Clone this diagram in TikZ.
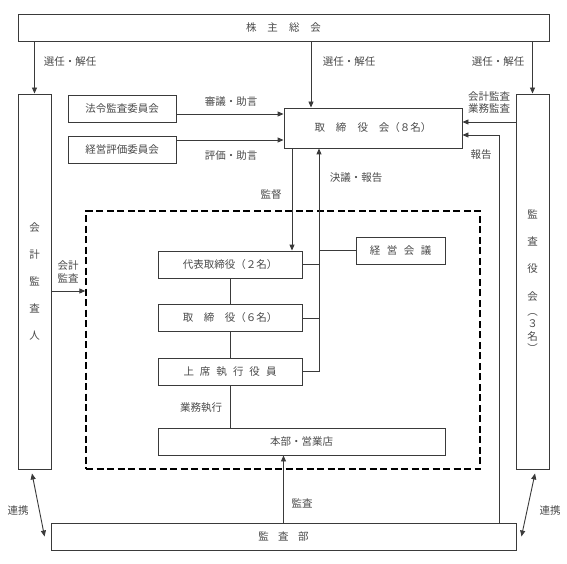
\documentclass[tikz,border=0pt]{standalone}
\usepackage{fontspec}
\setmainfont{Noto Sans CJK JP}
\usetikzlibrary{arrows.meta}
\definecolor{linec}{HTML}{3A3A3A}
\definecolor{textc}{HTML}{4A4A4A}
\begin{document}
\begin{tikzpicture}[x=1pt,y=-1pt,
  every node/.style={font=\fontsize{10.5}{12}\selectfont, text=textc, inner sep=0pt},
  box/.style={draw=linec, line width=0.9pt, fill=white},
  execbox/.style={draw=black, line width=1.4pt, dash pattern=on 7pt off 3.5pt},
  conn/.style={draw=linec, line width=0.9pt},
  arr/.style={conn, -{Triangle[length=6pt,width=5pt]}},
  darr/.style={conn, {Triangle[length=6pt,width=5pt]}-{Triangle[length=6pt,width=5pt]}}]
\useasboundingbox (0,0) rectangle (567,564);
\fill[white] (0,0) rectangle (567,564);

% dashed executive area
\node[execbox, minimum width=394pt, minimum height=258pt] (exec) at (283,340) {};

% boxes
\node[box, minimum width=531pt, minimum height=27pt] (soukai) at (283.5,27.5) {株\hspace{11pt}主\hspace{11pt}総\hspace{11pt}会};
\node[box, minimum width=33pt, minimum height=375pt, align=center, font=\fontsize{10.5}{27}\selectfont] (kaikei) at (34.5,281.5) {会\\計\\監\\査\\人};
\node[box, minimum width=33pt, minimum height=375pt, align=center, font=\fontsize{10.5}{12.5}\selectfont] (kansayaku) at (532.5,281.5) {監\\[14.5pt]査\\[14.5pt]役\\[15pt]会\\[2.5pt]︵\\３\\名\\︶};
\node[box, minimum width=108pt, minimum height=27pt] (hourei) at (122,108.5) {法令監査委員会};
\node[box, minimum width=108pt, minimum height=27pt] (keiei) at (122,149.5) {経営評価委員会};
\node[box, minimum width=178pt, minimum height=40pt] (torishimari) at (373,128) {取\hspace{11pt}締\hspace{11pt}役\hspace{11pt}会（８名）};
\node[box, minimum width=144pt, minimum height=27pt] (daihyo) at (230,264.5) {代表取締役（２名）};
\node[box, minimum width=144pt, minimum height=27pt] (tori6) at (230,318) {取\hspace{10.5pt}締\hspace{10.5pt}役（６名）};
\node[box, minimum width=144pt, minimum height=27pt] (joseki) at (230,371.5) {上\hspace{6pt}席\hspace{6pt}執\hspace{6pt}行\hspace{6pt}役\hspace{6pt}員};
\node[box, minimum width=89pt, minimum height=27pt] (keieikaigi) at (400.5,250.5) {経\hspace{6.5pt}営\hspace{6.5pt}会\hspace{6.5pt}議};
\node[box, minimum width=287pt, minimum height=27pt] (honbu) at (301.5,441.5) {本部・営業店};
\node[box, minimum width=465pt, minimum height=27pt] (kansabu) at (283.5,536.5) {監\hspace{9.5pt}査\hspace{9.5pt}部};

% helper coordinates
\coordinate (ts) at (311,0);
\coordinate (kt) at (292,0);
\coordinate (kx) at (319,0);
\coordinate (hk) at (499,135);
\coordinate (hy) at (0,114);
\coordinate (ky) at (0,140);
\coordinate (sy) at (0,122);
\coordinate (ka) at (0,291);

% connectors
\draw[arr] (kaikei.north |- soukai.south) -- (kaikei.north);
\draw[arr] (ts |- soukai.south) -- (ts |- torishimari.north);
\draw[arr] (kansayaku.north |- soukai.south) -- (kansayaku.north);
\draw[arr] (hourei.east |- hy) -- (torishimari.west |- hy);
\draw[arr] (keiei.east |- ky) -- (torishimari.west |- ky);
\draw[arr] (kansayaku.west |- sy) -- (torishimari.east |- sy);
\draw[arr] (hk |- kansabu.north) -- (hk) -- (torishimari.east |- hk);
\draw[arr] (kt |- torishimari.south) -- (kt |- daihyo.north);
\draw[arr] (kx |- joseki.east) -- (kx |- torishimari.south);
\draw[conn] (daihyo.east) -- (kx |- daihyo.east);
\draw[conn] (tori6.east) -- (kx |- tori6.east);
\draw[conn] (joseki.east) -- (kx |- joseki.east);
\draw[conn] (keieikaigi.west) -- (kx |- keieikaigi.west);
\draw[conn] (daihyo.south) -- (tori6.north);
\draw[conn] (tori6.south) -- (joseki.north);
\draw[conn] (joseki.south) -- (joseki.south |- honbu.north);
\draw[arr] (kaikei.east |- ka) -- (exec.west |- ka);
\draw[arr] (kansabu.north) -- (kansabu.north |- honbu.south);
\draw[darr] ([xshift=-2.5pt,yshift=-4pt]kaikei.south) -- ([xshift=-6pt]kansabu.west);
\draw[darr] ([xshift=2.5pt,yshift=-4pt]kansayaku.south) -- ([xshift=5pt]kansabu.east);

% labels
\node (l1) at (70,62) {選任・解任};
\node (l2) at (349,62) {選任・解任};
\node (l3) at (498,62) {選任・解任};
\node (l4) at (231,102) {審議・助言};
\node (l5) at (231,156) {評価・助言};
\node[align=center] (l6) at (489,102.5) {会計監査\\業務監査};
\node (l7) at (481,155) {報告};
\node (l8) at (271,195) {監督};
\node (l9) at (356,178) {決議・報告};
\node[align=center, font=\fontsize{10.5}{13}\selectfont] (l10) at (68,271.5) {会計\\監査};
\node (l11) at (201,408) {業務執行};
\node (l12) at (302,503) {監査};
\node (l13) at (18,511) {連携};
\node (l14) at (550,511) {連携};
\end{tikzpicture}
\end{document}
